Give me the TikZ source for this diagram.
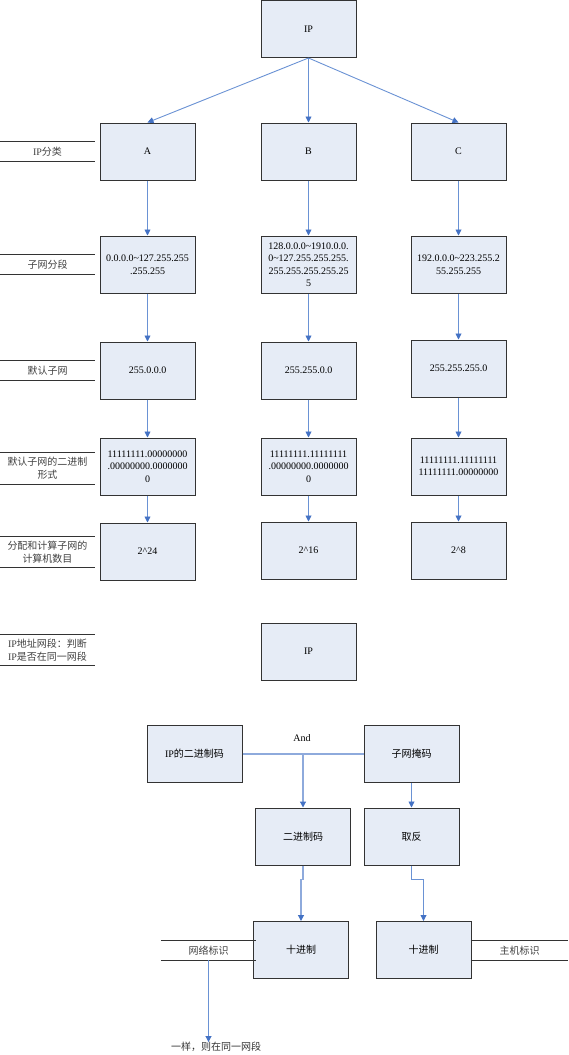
\documentclass[tikz,border=0pt]{standalone}
\usepackage{fontspec}
\setmainfont{Liberation Serif}
\newfontfamily\cjk{Noto Sans CJK SC}
\usetikzlibrary{arrows.meta,positioning}
\definecolor{boxfill}{HTML}{E6ECF6}
\definecolor{boxline}{HTML}{333333}
\definecolor{flow}{HTML}{6A92D4}
\definecolor{flowlight}{HTML}{8EAADC}
\definecolor{flowtip}{HTML}{4472C4}
\newcommand{\zh}[1]{{\cjk #1}}

\tikzset{
  blk/.style={draw=boxline,fill=boxfill,line width=1pt,minimum width=95pt,
    minimum height=57pt,inner sep=1pt,align=center,
    font=\fontsize{10}{12.5}\selectfont},
  lbl/.style={minimum width=95pt,inner sep=0pt,align=center,text=black!75,
    font=\fontsize{10}{13}\selectfont},
  rule/.style={draw=boxline,line width=1pt},
  arr/.style={-{Triangle[width=6pt,length=6pt,color=flowtip]},draw=flow,line width=0.9pt},
}

\begin{document}
\begin{tikzpicture}[x=1pt,y=-1pt]
        \useasboundingbox (0,0) rectangle (568,1055);
        \path
        % classes
        (308.5,29) node[blk](ip) {IP}
        (147.5,151.5) node[blk](A) {A}
        (308.5,151.5) node[blk](B) {B}
        (458.5,151.5) node[blk](C) {C}

        % ranges
        (147.5,264.5) node[blk](Arange) {0.0.0.0\textasciitilde127.255.255\\.255.255}
        (308.5,264.5) node[blk](Brange) {128.0.0.0\textasciitilde1910.0.0.\\0\textasciitilde127.255.255.255.\\255.255.255.255.25\\5}
        (458.5,264.5) node[blk](Crange) {192.0.0.0\textasciitilde223.255.2\\55.255.255}

        % default masks
        (147.5,370.5) node[blk](Amask) {255.0.0.0}
        (308.5,370.5) node[blk](Bmask) {255.255.0.0}
        (458.5,368.5) node[blk](Cmask) {255.255.255.0}

        % binary masks
        (147.5,466.5) node[blk](Abits) {11111111.00000000\\.00000000.0000000\\0}
        (308.5,466.5) node[blk](Bbits) {11111111.11111111\\.00000000.0000000\\0}
        (458.5,466.5) node[blk](Cbits) {11111111.11111111\\11111111.00000000}

        % hosts
        (147.5,551.5) node[blk](Ahosts) {2\textasciicircum24}
        (308.5,550.5) node[blk](Bhosts) {2\textasciicircum16}
        (458.5,550.5) node[blk](Chosts) {2\textasciicircum8}

        % left labels
        (47.5,151.5) node[lbl,minimum height=19pt](tclass) {IP\zh{分类}}
        (47.5,264.5) node[lbl,minimum height=19pt](trange) {\zh{子网分段}}
        (47.5,370.5) node[lbl,minimum height=19pt](tmask) {\zh{默认子网}}
        (47.5,468.5) node[lbl,minimum height=31pt](tbits) {\zh{默认子网的二进制}\\\zh{形式}}
        (47.5,552) node[lbl,minimum height=30pt](thosts) {\zh{分配和计算子网的}\\\zh{计算机数目}}
        (47.5,650) node[lbl,minimum height=30pt](tsame) {IP\zh{地址网段：判断}\\IP\zh{是否在同一网段}}

        % same segment check
        (308.5,651.5) node[blk](ip2) {IP}
        (194.5,754) node[blk](ipbin) {IP\zh{的二进制码}}
        (411.5,754) node[blk](mask) {\zh{子网掩码}}
        (302,738) node[font=\fontsize{10}{12}\selectfont](andop) {And}
        (303,836.5) node[blk](bin) {\zh{二进制码}}
        (411.5,836.5) node[blk](inv) {\zh{取反}}
        (301,950) node[blk](decnet) {\zh{十进制}}
        (423.5,950) node[blk](dechost) {\zh{十进制}}
        (208.5,950.5) node[lbl,minimum height=19pt](tnet) {\zh{网络标识}}
        (519.5,950.5) node[lbl,minimum width=97pt,minimum height=19pt](thost) {\zh{主机标识}}
        (216,1047) node[lbl,minimum width=0pt,text=black!80](result) {\zh{一样，则在同一网段}}
        ;

        \foreach \t in {tclass,trange,tmask,tbits,thosts,tsame,tnet,thost}
          \draw[rule] (\t.north west) -- (\t.north east) (\t.south west) -- (\t.south east);

        \draw[arr] (ip.south) -- (A.north);
        \draw[arr] (ip.south) -- (B.north);
        \draw[arr] (ip.south) -- (C.north);

        \foreach \c in {A,B,C} {
          \draw[arr] (\c.south) -- (\c range.north);
          \draw[arr] (\c range.south) -- (\c mask.north);
          \draw[arr] (\c mask.south) -- (\c bits.north);
          \draw[arr] (\c bits.south) -- (\c hosts.north);
        }

        \draw[draw=flowlight,line width=1.2pt] (ipbin.east) -- (mask.west);
        \draw[arr,draw=flowlight,line width=1.2pt] (ipbin.east -| bin.north) -- (bin.north);
        \draw[arr] (mask.south) -- (inv.north);
        \draw[arr,draw=flowlight,line width=1.2pt] (bin.south) -- ++(0,14) -| (decnet.north);
        \draw[arr] (inv.south) -- ++(0,14) -| (dechost.north);
        \draw[arr] (tnet.south) -- (tnet.south |- result.north);
\end{tikzpicture}
\end{document}
